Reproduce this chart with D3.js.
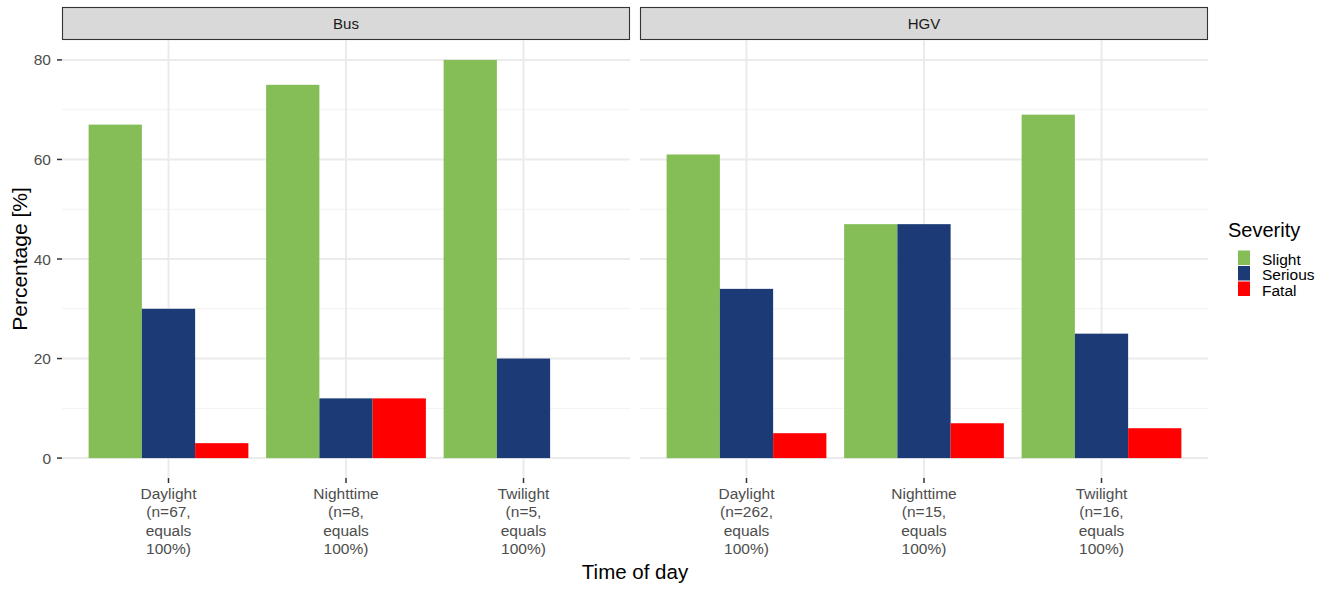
<!DOCTYPE html>
<html><head><meta charset="utf-8">
<script src="https://cdn.jsdelivr.net/npm/d3@7"></script>
<style>body{margin:0;background:#fff}svg{display:block;font-family:"Liberation Sans",Arial,sans-serif}</style>
</head><body><svg id="c" width="1332" height="589"></svg>
<script>
const panels = ["Bus", "HGV"];
const categories = ["Daylight", "Nighttime", "Twilight"];
const severities = ["Slight", "Serious", "Fatal"];
const busCounts = [67, 8, 5];
const hgvCounts = [262, 15, 16];
const busSlight = [67, 75, 80];
const busSerious = [30, 12, 20];
const busFatal = [3, 12, 0];
const hgvSlight = [61, 47, 69];
const hgvSerious = [34, 47, 25];
const hgvFatal = [5, 7, 6];
const yTicks = [0, 20, 40, 60, 80];
const yMinor = [10, 30, 50, 70];
const colors = ["#85BD57", "#1B3A76", "#FF0000"];

const values = {Bus: [busSlight, busSerious, busFatal], HGV: [hgvSlight, hgvSerious, hgvFatal]};
const counts = {Bus: busCounts, HGV: hgvCounts};

const svg = d3.select("#c");
const pTop = 40, pBottom = 478;
const panelX = {Bus: [62, 630], HGV: [640, 1208]};
const y = d3.scaleLinear().domain([-4, 84]).range([pBottom, pTop]);

panels.forEach((p, pi) => {
  const [x0, x1] = panelX[p];
  const x = d3.scalePoint().domain(categories).range([x0, x1]).padding(0.6);
  const step = x.step();
  const g = svg.append("g");
  // strip
  g.append("rect").attr("x", x0 + 0.5).attr("y", 7.5).attr("width", x1 - x0 - 1).attr("height", 32)
    .attr("fill", "#d9d9d9").attr("stroke", "#333").attr("stroke-width", 1.1);
  g.append("text").attr("x", (x0 + x1) / 2).attr("y", 29).attr("text-anchor", "middle")
    .attr("font-size", 15).attr("fill", "#1a1a1a").text(p);
  // grid
  g.selectAll(".minor").data(yMinor).join("line")
    .attr("x1", x0).attr("x2", x1).attr("y1", d => y(d)).attr("y2", d => y(d))
    .attr("stroke", "#f2f2f2").attr("stroke-width", 1);
  g.selectAll(".major").data(yTicks).join("line")
    .attr("x1", x0).attr("x2", x1).attr("y1", d => y(d)).attr("y2", d => y(d))
    .attr("stroke", "#ebebeb").attr("stroke-width", 2);
  g.selectAll(".vmajor").data(categories).join("line")
    .attr("x1", d => x(d)).attr("x2", d => x(d)).attr("y1", pTop).attr("y2", pBottom)
    .attr("stroke", "#ebebeb").attr("stroke-width", 2);
  // bars
  const sub = d3.scaleBand().domain(severities).range([-0.45 * step, 0.45 * step]).padding(0);
  categories.forEach((c, ci) => {
    severities.forEach((s, si) => {
      const v = values[p][si][ci];
      g.append("rect").attr("x", x(c) + sub(s)).attr("width", sub.bandwidth())
        .attr("y", y(v)).attr("height", y(0) - y(v)).attr("fill", colors[si]);
    });
  });
  // x axis ticks + labels
  categories.forEach((c, ci) => {
    g.append("line").attr("x1", x(c)).attr("x2", x(c)).attr("y1", pBottom).attr("y2", pBottom + 5)
      .attr("stroke", "#333").attr("stroke-width", 1.5);
    const lines = [c, "(n=" + counts[p][ci] + ",", "equals", "100%)"];
    const t = g.append("text").attr("text-anchor", "middle").attr("font-size", 15.5).attr("fill", "#4d4d4d");
    lines.forEach((l, li) => t.append("tspan").attr("x", x(c)).attr("y", 499 + li * 18.3).text(l));
  });
  if (pi === 0) {
    g.selectAll(".yt").data(yTicks).join("line")
      .attr("x1", x0 - 5).attr("x2", x0).attr("y1", d => y(d)).attr("y2", d => y(d))
      .attr("stroke", "#333").attr("stroke-width", 1.5);
    g.selectAll(".yl").data(yTicks).join("text")
      .attr("x", x0 - 11).attr("y", d => y(d) + 5.5).attr("text-anchor", "end")
      .attr("font-size", 15.5).attr("fill", "#4d4d4d").text(d => d);
  }
});

// axis titles
svg.append("text").attr("x", 635).attr("y", 579).attr("text-anchor", "middle")
  .attr("font-size", 20.5).attr("fill", "#000").text("Time of day");
svg.append("text").attr("transform", "translate(27," + ((pTop + pBottom) / 2) + ") rotate(-90)")
  .attr("text-anchor", "middle").attr("font-size", 21).attr("fill", "#000").text("Percentage [%]");

// legend
const lg = svg.append("g");
lg.append("text").attr("x", 1228).attr("y", 237).attr("font-size", 20).attr("fill", "#000").text("Severity");
severities.forEach((s, i) => {
  lg.append("rect").attr("x", 1238).attr("y", 250.5 + i * 15.5).attr("width", 12).attr("height", 14.5).attr("fill", colors[i]);
  lg.append("text").attr("x", 1262).attr("y", 264.5 + i * 15.5).attr("font-size", 15.5).attr("fill", "#000").text(s);
});
</script></body></html>
